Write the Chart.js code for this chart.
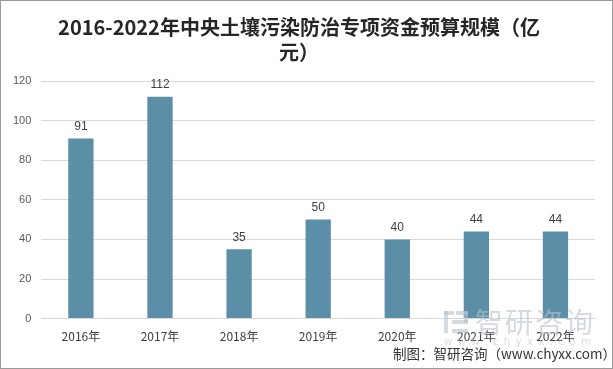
<!DOCTYPE html>
<html><head><meta charset="utf-8">
<script src="https://cdn.jsdelivr.net/npm/chart.js@4"></script>
<style>
html,body{margin:0;padding:0;background:#fff;}
#wrap{position:relative;width:613px;height:369px;box-sizing:border-box;border:1px solid #9a9a9a;background:#fff;overflow:hidden;}
#c{position:absolute;left:0;top:0;}
.wm{position:absolute;left:474px;top:300px;font-family:"Noto Sans CJK SC";font-size:28px;line-height:40px;color:rgba(185,192,204,0.6);letter-spacing:2px;white-space:nowrap;}
.wm2{position:absolute;left:443px;top:334px;font-family:"DejaVu Sans";font-size:10px;line-height:14px;color:rgba(185,192,204,0.6);letter-spacing:5.5px;white-space:nowrap;}
.logo{position:absolute;left:443px;top:310px;width:24px;height:22px;}
.src{position:absolute;left:392px;top:342px;font-family:"Noto Sans CJK SC";font-size:13.5px;color:#333;white-space:nowrap;}
</style></head>
<body>
<div id="wrap">
<canvas id="c" width="611" height="367"></canvas>
<svg class="logo" viewBox="0 0 24 22"><g fill="rgba(185,192,204,0.6)"><rect x="0" y="0" width="10" height="4"/><rect x="0" y="0" width="4" height="22"/><rect x="12" y="0" width="12" height="4"/><rect x="20" y="0" width="4" height="12"/><rect x="8" y="9" width="16" height="4"/><rect x="8" y="18" width="16" height="4"/></g></svg>
<div class="wm">智研咨询</div>
<div class="wm2">www.chyxx.com</div>
<div class="src">制图：智研咨询（www.chyxx.com）</div>
</div>
<script>
const categories = ["2016年","2017年","2018年","2019年","2020年","2021年","2022年"];
const values = [91,112,35,50,40,44,44];
const yTicks = [0,20,40,60,80,100,120];
const titleLines = ["2016-2022年中央土壤污染防治专项资金预算规模（亿","元）"];

const labelPlugin = {
  id:'labels',
  afterDatasetsDraw(chart){
    const ctx = chart.ctx;
    const meta = chart.getDatasetMeta(0);
    ctx.save();
    ctx.font = '12px "Liberation Sans", "DejaVu Sans"';
    ctx.fillStyle = '#404040';
    ctx.textAlign = 'center';
    ctx.textBaseline = 'bottom';
    meta.data.forEach((bar,i)=>{
      ctx.fillText(String(values[i]), bar.x, bar.y - 6);
    });
    ctx.restore();
  }
};

new Chart(document.getElementById('c'), {
  type:'bar',
  data:{labels:categories,datasets:[{data:values,backgroundColor:'#5b8fa8',categoryPercentage:1,barPercentage:0.32}]},
  options:{
    responsive:false,animation:false,
    layout:{padding:{left:2,right:17,top:0,bottom:21}},
    plugins:{
      legend:{display:false},tooltip:{enabled:false},
      title:{display:true,text:titleLines,color:'#262626',
        font:{family:'"Noto Sans CJK SC"',size:20,weight:'bold',lineHeight:1.25},
        padding:{top:14,bottom:16}}
    },
    scales:{
      x:{grid:{display:false},border:{display:true,color:'#d9d9d9'},
        ticks:{color:'#404040',font:{family:'"Noto Sans CJK SC"',size:12},padding:3}},
      y:{min:0,max:120,afterBuildTicks(ax){ax.ticks=yTicks.map(v=>({value:v}));},
        grid:{color:'#d9d9d9',drawTicks:false},border:{display:false},
        ticks:{color:'#595959',font:{family:'"Liberation Sans"',size:11},padding:10}}
    }
  },
  plugins:[labelPlugin]
});
</script>
</body></html>
